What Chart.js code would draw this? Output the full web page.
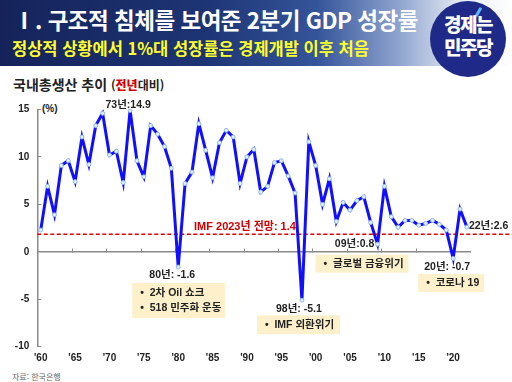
<!DOCTYPE html>
<html lang="ko">
<head>
<meta charset="utf-8">
<script src="https://cdn.jsdelivr.net/npm/chart.js@4/dist/chart.umd.min.js"></script>
<style>
  html, body { margin: 0; padding: 0; background: #fff; }
  body { width: 512px; height: 382px; position: relative; overflow: hidden; font-family: "Noto Sans CJK KR", "Liberation Sans", sans-serif; }
  #banner { position: absolute; left: 0; top: 0; width: 512px; height: 66px;
    background: linear-gradient(90deg, #15235a 0%, #1d3474 40%, #35559a 62%, #8fa4cf 78%, #e6ebf3 90%, #fff 100%); }
  #title { position: absolute; left: 13px; top: 3px; color: #fff; font-size: 22.5px; font-weight: 700; white-space: nowrap; letter-spacing: -0.5px; }
  #sub { position: absolute; left: 12px; top: 36px; color: #ffff2a; font-size: 16.5px; font-weight: 700; white-space: nowrap; }
  #logo { position: absolute; left: 430px; top: 1px; width: 76px; height: 76px; border-radius: 50%; background: #1f2a88; }
  #logo div { position: absolute; left: 0; width: 76px; text-align: center; color: #fff; font-size: 19px; font-weight: 900; letter-spacing: -1.5px; line-height: 21px; }
  #logo .l1 { top: 12px; }
  #logo .l2 { top: 35px; }
  #logo .spark { position: absolute; left: 47px; top: 6px; width: 3px; height: 10px; background: #5db4ff; transform: rotate(30deg); border-radius: 1px; }
  #heading { position: absolute; left: 13px; top: 74px; font-size: 14px; font-weight: 700; color: #222; white-space: nowrap; }
  #heading span { font-size: 12px; }
  #heading b { color: #d40000; }
  #unit { position: absolute; left: 42px; top: 103px; font: bold 10px "Liberation Sans", sans-serif; color: #222; }
  #src { position: absolute; left: 12px; top: 371px; font-size: 8px; color: #666; }
  #chart { position: absolute; left: 0; top: 0; }
</style>
</head>
<body>
<div id="banner"></div>
<div id="title">Ⅰ. 구조적 침체를 보여준 2분기 GDP 성장률</div>
<div id="sub">정상적 상황에서 1%대 성장률은 경제개발 이후 처음</div>
<div id="logo"><i class="spark"></i><div class="l1">경제는</div><div class="l2">민주당</div></div>
<div id="heading">국내총생산 추이 <span>(<b>전년</b>대비)</span></div>
<div id="unit">(%)</div>
<div id="src">자료: 한국은행</div>
<canvas id="chart" width="512" height="382"></canvas>

<script>
// 연도 (1960 ~ 2022)
const years = [
  1960, 1961, 1962, 1963, 1964, 1965, 1966, 1967, 1968, 1969,
  1970, 1971, 1972, 1973, 1974, 1975, 1976, 1977, 1978, 1979,
  1980, 1981, 1982, 1983, 1984, 1985, 1986, 1987, 1988, 1989,
  1990, 1991, 1992, 1993, 1994, 1995, 1996, 1997, 1998, 1999,
  2000, 2001, 2002, 2003, 2004, 2005, 2006, 2007, 2008, 2009,
  2010, 2011, 2012, 2013, 2014, 2015, 2016, 2017, 2018, 2019,
  2020, 2021, 2022
];

// 실질 GDP 성장률 (%, 전년대비)
const growth = [
  2.3, 6.9, 3.9, 9.1, 9.6, 7.4, 12.1, 9.2, 13.3, 14.6,
  10.2, 10.6, 7.3, 14.9, 9.6, 7.9, 13.3, 12.4, 11.1, 8.8,
  -1.6, 7.2, 8.4, 13.5, 10.7, 7.8, 11.5, 12.8, 12.1, 7.2,
  10.0, 10.8, 6.3, 6.9, 9.4, 9.6, 8.0, 6.2, -5.1, 11.6,
  9.1, 5.0, 7.7, 3.2, 5.2, 4.4, 5.4, 5.8, 3.1, 0.8,
  6.9, 3.7, 2.6, 3.3, 3.3, 2.8, 3.0, 3.3, 2.9, 2.3,
  -0.7, 4.5, 2.6
];

const xTickYears = [1960, 1965, 1970, 1975, 1980, 1985, 1990, 1995, 2000, 2005, 2010, 2015, 2020];
const yTicks = [-10, -5, 0, 5, 10, 15];

// IMF 2023년 전망선 (그림상 위치)
const imfLevel = 1.85;
const imfLabel = "IMF 2023년 전망: 1.4";

// 주요 연도 라벨
const noteYears = [1973, 1980, 1998, 2009, 2020, 2022];
const noteLabels = ["73년:14.9", "80년: -1.6", "98년: -5.1", "09년:0.8", "20년: -0.7", "22년:2.6"];
const noteBoxes = [[], ["2차 Oil 쇼크", "518 민주화 운동"], ["IMF 외환위기"], ["글로벌 금융위기"], ["코로나 19"], []];

const X_MIN = 1959.5, X_MAX = 2022.45;
const txt = "#222";
const axisGray = "#8a8a8a";
const labelFont = 'bold 10.5px "Liberation Sans", "Noto Sans CJK KR", sans-serif';

// 라벨 배치 (점 기준 오프셋)
const notePlace = [
  { dx: -2, dy: -5.5, align: "center" },
  { dx: -6, dy: 8, align: "center", box: { l: -46, t: 16, w: 93, h: 35, step: 15 } },
  { dx: -3, dy: 9, align: "center", box: { l: -45, t: 15, w: 83, h: 19, step: 15 } },
  { dx: -23, dy: 0, align: "center", box: { l: -62, t: 10.5, w: 93, h: 18, step: 15 } },
  { dx: -6, dy: 9, align: "center", box: { l: -35, t: 15.5, w: 66, h: 18, step: 15 } },
  { dx: 2, dy: -1, align: "left" }
];

const imfLinePlugin = {
  id: "imfLine",
  beforeDatasetsDraw(chart) {
    const { ctx, chartArea, scales } = chart;
    const y = scales.y.getPixelForValue(imfLevel);
    ctx.save();
    ctx.strokeStyle = "#e00000";
    ctx.lineWidth = 1.5;
    ctx.setLineDash([4, 2.5]);
    ctx.beginPath();
    ctx.moveTo(chartArea.left, y);
    ctx.lineTo(chart.width, y);
    ctx.stroke();
    ctx.setLineDash([]);
    ctx.fillStyle = "#d00000";
    ctx.font = 'bold 11px "Liberation Sans", "Noto Sans CJK KR", sans-serif';
    ctx.textBaseline = "middle";
    ctx.textAlign = "left";
    ctx.fillText(imfLabel, scales.x.getPixelForValue(1982.3), y - 7.5);
    ctx.restore();
  }
};

const notesPlugin = {
  id: "notes",
  afterDatasetsDraw(chart) {
    const { ctx, scales } = chart;
    ctx.save();
    ctx.font = labelFont;
    ctx.textBaseline = "middle";
    noteYears.forEach((yr, i) => {
      const v = growth[years.indexOf(yr)];
      const px = scales.x.getPixelForValue(yr);
      const py = scales.y.getPixelForValue(v);
      const p = notePlace[i];
      ctx.fillStyle = txt;
      ctx.textAlign = p.align;
      ctx.fillText(noteLabels[i], px + p.dx, py + p.dy);
      if (p.box && noteBoxes[i].length) {
        const b = p.box;
        ctx.fillStyle = "#fdf0cb";
        ctx.fillRect(px + b.l, py + b.t, b.w, b.h);
        ctx.fillStyle = txt;
        ctx.textAlign = "left";
        const n = noteBoxes[i].length;
        noteBoxes[i].forEach((line, k) => {
          const ly = py + b.t + b.h / 2 + (k - (n - 1) / 2) * b.step;
          ctx.fillText("•  " + line, px + b.l + 8, ly);
        });
      }
    });
    ctx.restore();
  }
};

new Chart(document.getElementById("chart"), {
  type: "line",
  data: {
    datasets: [{
      data: years.map((yr, i) => ({ x: yr, y: growth[i] })),
      borderColor: "#1010ff",
      borderWidth: 3,
      tension: 0,
      pointRadius: 2,
      pointBorderWidth: 1,
      pointBackgroundColor: "#e4efff",
      pointBorderColor: "#8db6ef",
      xAxisID: "x",
      yAxisID: "y"
    }]
  },
  options: {
    responsive: false,
    animation: false,
    events: [],
    layout: { padding: { top: 109.5, right: 42, bottom: 11.3, left: 0 } },
    plugins: { legend: { display: false }, tooltip: { enabled: false } },
    scales: {
      x: {
        type: "linear",
        position: { y: 0 },
        min: X_MIN, max: X_MAX,
        grid: { drawOnChartArea: false, tickLength: -4, color: axisGray, lineWidth: 1 },
        border: { color: axisGray, width: 1.5 },
        ticks: { display: false },
        afterBuildTicks: s => { s.ticks = xTickYears.map(v => ({ value: v - 0.4 })); }
      },
      x2: {
        type: "linear",
        position: "bottom",
        min: X_MIN, max: X_MAX,
        grid: { display: false, drawTicks: false },
        border: { display: false },
        ticks: {
          autoSkip: false, maxRotation: 0, padding: 6, color: txt,
          font: { family: '"Liberation Sans", sans-serif', size: 10, weight: "bold" },
          callback: v => "'" + String(v).slice(2)
        },
        afterBuildTicks: s => { s.ticks = xTickYears.map(v => ({ value: v })); },
        afterFit: s => { s.height = 24; }
      },
      y: {
        min: -10, max: 15,
        grid: { drawOnChartArea: false, tickLength: -4, color: axisGray, lineWidth: 1 },
        border: { color: axisGray, width: 1.5 },
        ticks: {
          padding: 12, color: txt,
          font: { family: '"Liberation Sans", sans-serif', size: 10, weight: "bold" }
        },
        afterBuildTicks: s => { s.ticks = yTicks.map(v => ({ value: v })); },
        afterFit: s => { s.width = 37.3; }
      }
    }
  },
  plugins: [imfLinePlugin, notesPlugin]
});
</script>
</body>
</html>
